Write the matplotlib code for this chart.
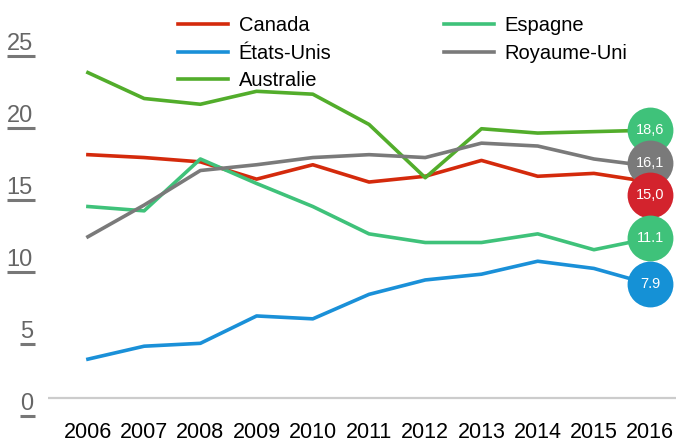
import matplotlib
matplotlib.use('Agg')
import matplotlib.pyplot as plt
from matplotlib.lines import Line2D
from matplotlib.transforms import offset_copy

plt.rcParams['font.family'] = ['Liberation Sans', 'DejaVu Sans']

years = [2006, 2007, 2008, 2009, 2010, 2011, 2012, 2013, 2014, 2015, 2016]

canada = [16.9, 16.7, 16.4, 15.2, 16.2, 15.0, 15.4, 16.5, 15.4, 15.6, 15.0]
etats_unis = [2.7, 3.6, 3.8, 5.7, 5.5, 7.2, 8.2, 8.6, 9.5, 9.0, 7.9]
australie = [22.6, 20.8, 20.4, 21.3, 21.1, 19.0, 15.3, 18.7, 18.4, 18.5, 18.6]
espagne = [13.3, 13.0, 16.6, 14.9, 13.3, 11.4, 10.8, 10.8, 11.4, 10.3, 11.1]
royaume_uni = [11.2, 13.4, 15.8, 16.2, 16.7, 16.9, 16.7, 17.7, 17.5, 16.6, 16.1]

# end labels (2016 values as printed in the chart)
end_values = [18.6, 16.1, 15.0, 11.1, 7.9]
end_texts = ['18,6', '16,1', '15,0', '11.1', '7.9']
end_colors = ['#3fc27a', '#7a7a7a', '#d3232d', '#3fc27a', '#1591d6']
end_shift = [0, 3, -13, 0, 0]  # pixels, to avoid overlap

yticks = [0, 5, 10, 15, 20, 25]

fig = plt.figure(figsize=(6.76, 4.45), dpi=100)
ax = fig.add_axes([48 / 676, 35 / 445, 628 / 676, 410 / 445])

ax.plot(years, canada, color='#d42a0c', lw=2.6, label='Canada')
ax.plot(years, etats_unis, color='#1a90d8', lw=2.6, label='États-Unis')
ax.plot(years, australie, color='#52ad2b', lw=2.6, label='Australie')
ax.plot(years, espagne, color='#3fc27a', lw=2.6, label='Espagne')
ax.plot(years, royaume_uni, color='#7a7a7a', lw=2.6, label='Royaume-Uni')

ax.axhline(0, color='#cccccc', lw=1.6, zorder=0)

for v, t, c, dy in zip(end_values, end_texts, end_colors, end_shift):
    tr = offset_copy(ax.transData, fig=fig, x=0, y=dy, units='dots')
    ax.plot([years[-1]], [v], 'o', ms=33, color=c, mec='none', transform=tr, clip_on=False, zorder=5)
    ax.text(years[-1], v, t, transform=tr, ha='center', va='center', color='white',
            fontsize=10.5, zorder=6)

ax.set_xlim(2005.29, 2016.46)
ax.set_ylim(-0.83, 27.64)
ax.set_xticks(years)
ax.set_xticklabels([str(y) for y in years], fontsize=15.5)
ax.tick_params(axis='x', length=0, pad=9)
ax.set_yticks([])
for s in ax.spines.values():
    s.set_visible(False)

# y labels with underline
ylabels = []
for v in yticks:
    t = ax.annotate(str(v), xy=(0, v), xycoords=('axes fraction', 'data'), xytext=(-15, -6),
                    textcoords='offset pixels', ha='right', va='center', fontsize=17, color='#666666')
    ylabels.append(t)

ax.legend(ncol=2, loc='upper left', bbox_to_anchor=(164 / 676, 1.0 - 2 / 445), bbox_transform=fig.transFigure,
          frameon=False, fontsize=14.5, handlelength=2.5, handletextpad=0.5, columnspacing=5.6,
          labelspacing=0.42, borderpad=0.2)

fig.canvas.draw()
r = fig.canvas.get_renderer()
for t in ylabels:
    bb = t.get_window_extent(r)
    fig.add_artist(Line2D([bb.x0, bb.x1 + 2], [bb.y0 - 1, bb.y0 - 1], transform=None,
                          color='#777777', lw=2.2, solid_capstyle='butt'))

fig.savefig('out.png', dpi=100)
